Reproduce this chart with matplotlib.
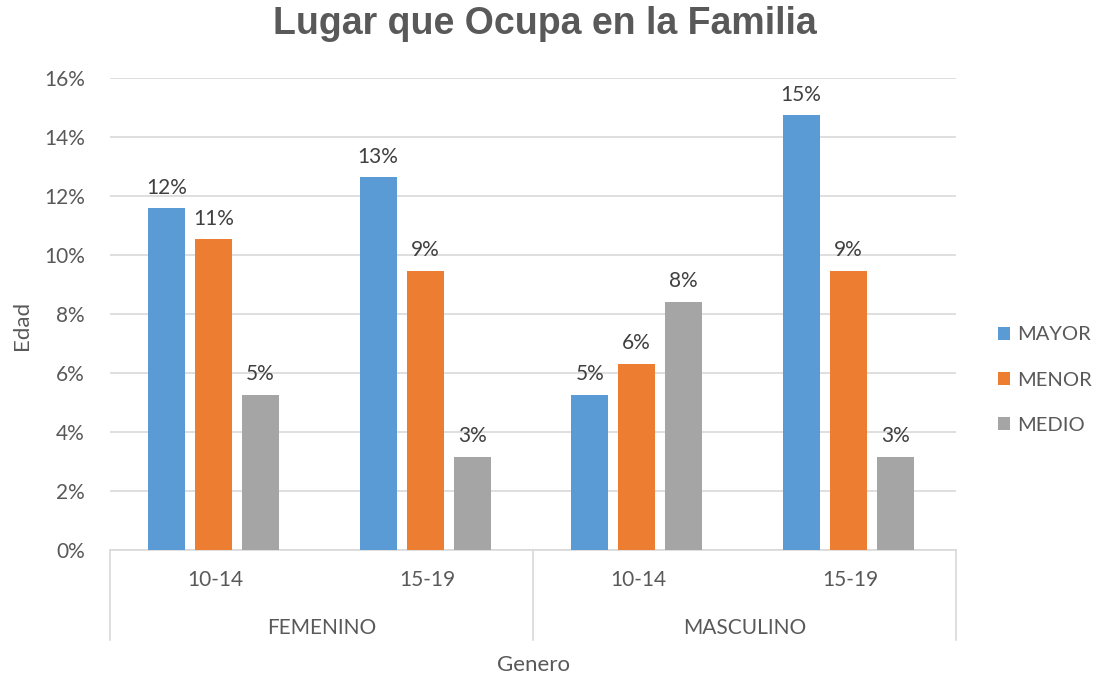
import matplotlib
matplotlib.use("Agg")
import matplotlib.pyplot as plt
import numpy as np
from matplotlib.ticker import FuncFormatter, MultipleLocator
import matplotlib.transforms as mtransforms

title = "Lugar que Ocupa en la Familia"
sub_labels = ["10-14", "15-19", "10-14", "15-19"]
group_labels = ["FEMENINO", "MASCULINO"]
series_names = ["MAYOR", "MENOR", "MEDIO"]
mayor = [11.58, 12.63, 5.26, 14.74]
menor = [10.53, 9.47, 6.32, 9.47]
medio = [5.26, 3.16, 8.42, 3.16]
colors = ["#5B9BD5", "#ED7D31", "#A5A5A5"]

FONT = "Lato"
TXT = "#595959"

fig = plt.figure(figsize=(11.03, 6.79), dpi=100)
ax = fig.add_axes([110/1103, 1-550/679, (956-110)/1103, (550-78)/679])

x = np.arange(len(sub_labels))
offs = [-0.222, 0.0, 0.222]
width = 0.175
for vals, name, c, o in zip([mayor, menor, medio], series_names, colors, offs):
    bars = ax.bar(x + o - 0.01, vals, width, color=c, label=name, zorder=3)
    for b, v in zip(bars, vals):
        ax.annotate(f"{v:.0f}%", (b.get_x() + b.get_width()/2, v),
                    xytext=(0, 7.5), textcoords="offset points",
                    ha="center", va="bottom", fontsize=15, color="#404040",
                    family=FONT)

ax.set_xlim(-0.5, 3.5)
ax.set_ylim(0, 16)
ax.yaxis.set_major_locator(MultipleLocator(2))
ax.yaxis.set_major_formatter(FuncFormatter(lambda v, p: f"{v:.0f}%"))
ax.grid(axis="y", color="#D9D9D9", linewidth=1.2, zorder=0)
for s in ["top", "right", "left"]:
    ax.spines[s].set_visible(False)
ax.spines["bottom"].set_color("#D9D9D9")
ax.spines["bottom"].set_linewidth(1.2)
ax.tick_params(axis="y", length=0, labelsize=15, labelcolor=TXT, pad=18)
ax.tick_params(axis="x", length=0, labelbottom=False)
for lab in ax.get_yticklabels():
    lab.set_family(FONT)

trans = mtransforms.blended_transform_factory(ax.transData, ax.transAxes)
for xi, lab in zip(x, sub_labels):
    ax.text(xi, -0.064, lab, transform=trans, ha="center", va="center",
            fontsize=15, color=TXT, family=FONT)
for gi, lab in enumerate(group_labels):
    ax.text(gi*2 + 0.5, -0.165, lab, transform=trans, ha="center", va="center",
            fontsize=15, color=TXT, family=FONT)
for sx in [-0.5, 1.5, 3.5]:
    ax.plot([sx, sx], [0, -0.19], transform=trans, color="#D9D9D9",
            linewidth=1.2, clip_on=False)

ax.text(0.5, -0.244, "Genero", transform=ax.transAxes, ha="center", va="center",
        fontsize=16, color=TXT, family=FONT)
fig.text(22/1103, 1-325/679, "Edad", rotation=90, ha="center", va="center",
         fontsize=16, color=TXT, family=FONT)
fig.text(545/1103, 1-24/679, title, ha="center", va="center", fontsize=27,
         fontweight="bold", color=TXT, family="Liberation Sans")

leg = fig.legend(loc="center left", bbox_to_anchor=(980/1103, 1-380/679),
                 frameon=False, handlelength=0.6, handleheight=0.6,
                 handletextpad=0.35, labelspacing=1.4,
                 prop={"family": FONT, "size": 14.5})
for t in leg.get_texts():
    t.set_color(TXT)

fig.savefig("out.png", dpi=100)
